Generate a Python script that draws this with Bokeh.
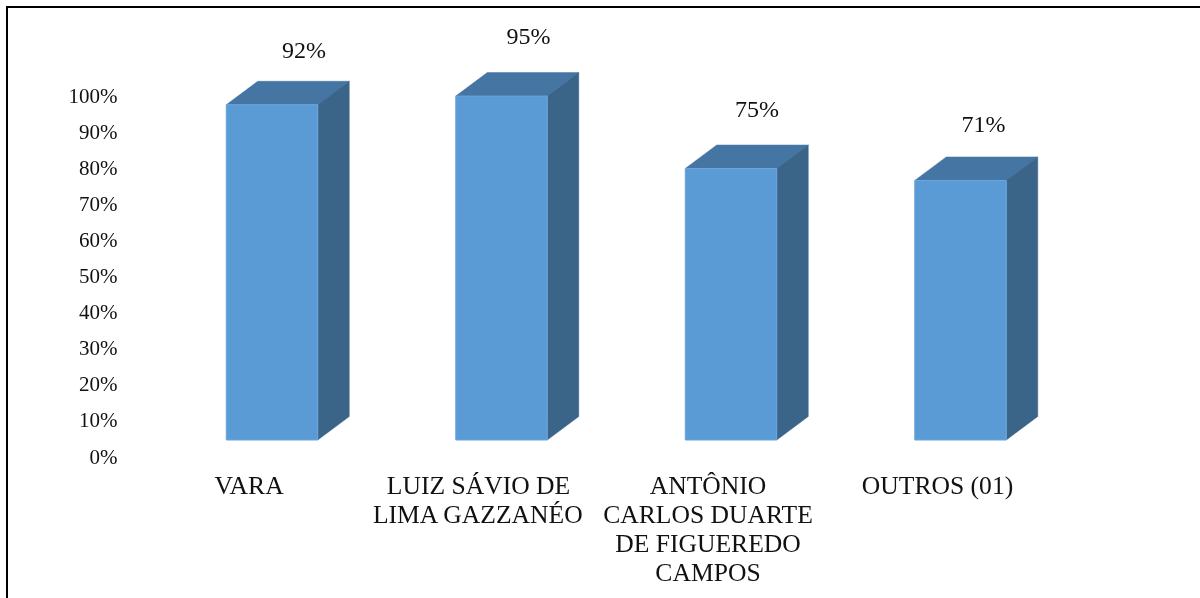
from bokeh.plotting import figure
from bokeh.embed import file_html
from bokeh.resources import INLINE
from bokeh.models import Range1d, LinearAxis, FixedTicker, PrintfTickFormatter, InlineStyleSheet
from bokeh.core.properties import value

# data
categories = ["VARA", "LUIZ SÁVIO DE\nLIMA GAZZANÉO", "ANTÔNIO\nCARLOS DUARTE\nDE FIGUEREDO\nCAMPOS", "OUTROS (01)"]
values = [92.6, 95, 75, 71.7]
value_labels = ["92%", "95%", "75%", "71%"]
ticks = [0, 10, 20, 30, 40, 50, 60, 70, 80, 90, 100]

# layout (screen pixels)
W, H = 1200, 598
FRAME_LEFT = 125
X0, SPACING, BAR_W = 271.5, 229.5, 91.5
DEPTH_X, DEPTH_Y = 31.5, 23.5
BASE_Y, PX_PER_PCT = 439.5, 3.62
AXIS0_Y, AXIS_PX = 456.0, 3.61
SERIF = value("Liberation Serif")

p = figure(width=W, height=H, output_backend="svg", toolbar_location=None,
           min_border_left=FRAME_LEFT, min_border_right=0, min_border_top=0, min_border_bottom=0,
           x_range=Range1d((FRAME_LEFT - X0) / SPACING, (W - X0) / SPACING),
           y_range=Range1d((BASE_Y - H) / PX_PER_PCT, BASE_Y / PX_PER_PCT),
           x_axis_location=None, y_axis_location=None)
# the figure fills the window; the frame of the image runs off its right and bottom edges
p.stylesheets = [InlineStyleSheet(css=""":host{position:fixed !important;left:0;top:0;}
:host::before{content:"";position:absolute;left:6px;top:6px;right:0;bottom:0;
border-left:2px solid #000;border-top:2px solid #000;pointer-events:none;z-index:10;}""")]
p.xgrid.visible = False
p.ygrid.visible = False
p.outline_line_color = None
p.background_fill_color = "white"

p.extra_y_ranges["pct"] = Range1d((AXIS0_Y - H) / AXIS_PX, AXIS0_Y / AXIS_PX)
ax = LinearAxis(y_range_name="pct", ticker=FixedTicker(ticks=ticks),
                formatter=PrintfTickFormatter(format="%d%%"))
ax.axis_line_color = None
ax.major_tick_line_color = None
ax.minor_tick_line_color = None
ax.major_label_standoff = 2
ax.major_label_text_font = "Liberation Serif"
ax.major_label_text_font_size = "21px"
ax.major_label_text_color = "#111111"
p.add_layout(ax, "left")

dx, dy = DEPTH_X / SPACING, DEPTH_Y / PX_PER_PCT
hw = BAR_W / SPACING / 2
xs = list(range(len(values)))

top_x = [[i - hw, i + hw, i + hw + dx, i - hw + dx] for i in xs]
top_y = [[v, v, v + dy, v + dy] for v in values]
side_x = [[i + hw, i + hw + dx, i + hw + dx, i + hw] for i in xs]
side_y = [[v, v + dy, dy, 0] for v in values]
p.patches(top_x, top_y, fill_color="#4575A3", line_color="#4575A3", line_width=0.5)
p.patches(side_x, side_y, fill_color="#3A6488", line_color="#3A6488", line_width=0.5)
p.vbar(x=xs, top=values, bottom=0, width=2 * hw, fill_color="#5B9BD5", line_color="#6AA5DC", line_width=1)

# value labels (hand-placed in the source, offsets in pixels)
lab_dx = [32, 27, 26, 23]
lab_dy = [-54.5, -60, -59.5, -56.5]
p.text(x=xs, y=values, text=value_labels, x_offset=lab_dx, y_offset=lab_dy,
       text_font=SERIF, text_font_size="24px", text_color="#111111",
       text_align="center", text_baseline="middle")

# category labels, one glyph per line
LINE_H = 29.3
lx, ly, lt, loff = [], [], [], []
for i, c in enumerate(categories):
    for j, line in enumerate(c.split("\n")):
        lx.append(i); ly.append(0); lt.append(line); loff.append(45 + j * LINE_H)
p.text(x=lx, y=ly, text=lt, x_offset=-23, y_offset=loff,
       text_font=SERIF, text_font_size="25.6px", text_color="#111111",
       text_align="center", text_baseline="middle")

open("out.html", "w").write(file_html(p, INLINE))
